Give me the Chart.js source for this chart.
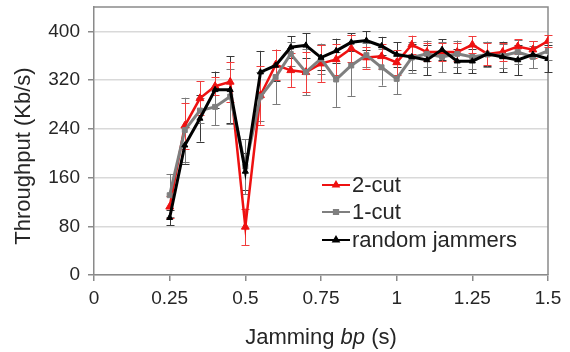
<!DOCTYPE html>
<html><head><meta charset="utf-8">
<script src="https://cdn.jsdelivr.net/npm/chart.js@4/dist/chart.umd.min.js"></script>
<style>html,body{margin:0;padding:0;background:#fff}#wrap{width:570px;height:352px}</style>
</head><body><div id="wrap"><canvas id="c" width="570" height="352"></canvas></div>
<script>
// ---- data ----
const xValues = [0.25,0.30,0.35,0.40,0.45,0.50,0.55,0.60,0.65,0.70,0.75,0.80,0.85,0.90,0.95,1.00,1.05,1.10,1.15,1.20,1.25,1.30,1.35,1.40,1.45,1.50];
const xTickLabels = ['0','0.25','0.5','0.75','1','1.25','1.5'];
const xTickValues = [0,0.25,0.5,0.75,1,1.25,1.5];
const yTickValues = [0,80,160,240,320,400];

const twoCut    = [112,245,290,310,317,79,295,345,336,333,347,354,372,357,359,349,378,366,366,366,378,363,366,375,370,384];
const twoCutErr = [18,38,28,15,33,30,48,25,28,33,30,25,22,18,20,20,15,15,15,15,14,18,15,12,14,10];

const oneCut    = [131,238,270,276,293,178,293,325,363,333,355,321,344,361,341,322,357,363,358,363,358,362,360,366,358,368];
const oneCutErr = [35,53,20,30,45,45,40,45,20,38,25,45,50,20,30,25,25,22,25,22,20,20,20,20,18,15];

const randomJam    = [94,213,257,304,304,170,333,344,374,377,357,368,382,385,376,362,358,353,370,351,351,363,358,353,362,355];
const randomJamErr = [12,30,38,30,55,30,35,25,18,20,20,20,15,15,15,20,22,25,17,20,20,20,25,25,22,22];

const seriesLabels = ['2-cut','1-cut','random jammers'];

const toPts = (ys) => xValues.map((x,i)=>({x:x,y:ys[i]}));

const TEXT = '#262626';
const FONT = '"Liberation Sans", Arial, sans-serif';

const framePlugin = {
  id:'frame',
  beforeDatasetsDraw(chart){
    const {ctx, chartArea:a} = chart;
    ctx.save();
    ctx.strokeStyle = '#8a8a8a';
    ctx.lineWidth = 1.5;
    ctx.beginPath();
    ctx.moveTo(a.left, a.top); ctx.lineTo(a.right, a.top); ctx.lineTo(a.right, a.bottom);
    ctx.stroke();
    ctx.restore();
  }
};

const errPlugin = {
  id:'errbars',
  beforeDatasetsDraw(chart){
    const {ctx} = chart;
    const xs = chart.scales.x, ys = chart.scales.y;
    ctx.save();
    ctx.lineWidth = 1;
    chart.data.datasets.slice().reverse().forEach(ds=>{
      ctx.strokeStyle = ds.errColor;
      ds.data.forEach((p,i)=>{
        const e = ds.errors[i];
        const px = Math.round(xs.getPixelForValue(p.x))+0.5;
        const y1 = ys.getPixelForValue(p.y+e), y2 = ys.getPixelForValue(p.y-e);
        ctx.beginPath();
        ctx.moveTo(px,y1); ctx.lineTo(px,y2);
        ctx.moveTo(px-4,Math.round(y1)+0.5); ctx.lineTo(px+4,Math.round(y1)+0.5);
        ctx.moveTo(px-4,Math.round(y2)+0.5); ctx.lineTo(px+4,Math.round(y2)+0.5);
        ctx.stroke();
      });
    });
    ctx.restore();
  }
};

const textPlugin = {
  id:'texts',
  afterDraw(chart){
    const {ctx} = chart;
    ctx.save();
    ctx.fillStyle = TEXT;
    // y title
    ctx.font = '22px ' + FONT;
    ctx.textAlign = 'center'; ctx.textBaseline = 'middle';
    ctx.translate(24,156); ctx.rotate(-Math.PI/2);
    ctx.fillText('Throughput (Kb/s)',0,0);
    ctx.setTransform(1,0,0,1,0,0);
    // x title with italic part
    const parts = [['Jamming ', 'normal'],['bp','italic'],[' (s)','normal']];
    let w = 0;
    parts.forEach(p=>{ctx.font = p[1]+' 22px '+FONT; w += ctx.measureText(p[0]).width;});
    let x = 321 - w/2;
    ctx.textAlign = 'left';
    parts.forEach(p=>{ctx.font = p[1]+' 22px '+FONT; ctx.fillText(p[0],x,338); x += ctx.measureText(p[0]).width;});
    // legend
    const rows = [185,212,240];
    chart.data.datasets.forEach((ds,i)=>{
      const y = rows[i];
      ctx.strokeStyle = ds.borderColor; ctx.lineWidth = 2;
      ctx.beginPath(); ctx.moveTo(322,y); ctx.lineTo(350,y); ctx.stroke();
      Chart.helpers.drawPoint(ctx,{pointStyle:ds.pointStyle,radius:3,borderWidth:1},336,y);
      ctx.fillStyle = ds.borderColor;
      ctx.fill();
      ctx.fillStyle = TEXT;
      ctx.font = '22px ' + FONT;
      ctx.textAlign='left'; ctx.textBaseline='middle';
      ctx.fillText(ds.label,352,y+1);
    });
    ctx.restore();
  }
};

new Chart(document.getElementById('c'),{
  type:'line',
  data:{datasets:[
    {label:seriesLabels[0],data:toPts(twoCut),errors:twoCutErr,errColor:'#f03c3c',borderColor:'#ee1111',backgroundColor:'#ee1111',borderWidth:2.5,pointStyle:'triangle',pointRadius:4.5,pointBorderWidth:1,order:3},
    {label:seriesLabels[1],data:toPts(oneCut),errors:oneCutErr,errColor:'#7a7a7a',borderColor:'#7f7f7f',backgroundColor:'#7f7f7f',borderWidth:3,pointStyle:'rect',pointRadius:3.5,pointBorderWidth:1,order:2},
    {label:seriesLabels[2],data:toPts(randomJam),errors:randomJamErr,errColor:'#3a3a3a',borderColor:'#000000',backgroundColor:'#000000',borderWidth:3,pointStyle:'triangle',pointRadius:3.5,pointBorderWidth:1,order:1}
  ]},
  options:{
    responsive:false, animation:false, devicePixelRatio:1,
    layout:{padding:{top:7,right:22,left:0,bottom:0}},
    plugins:{legend:{display:false},tooltip:{enabled:false}},
    elements:{line:{tension:0}},
    scales:{
      x:{type:'linear',min:0,max:1.5,
        afterBuildTicks:s=>{s.ticks = xTickValues.map(v=>({value:v}));},
        afterFit:s=>{s.height=77;s.paddingLeft=0;s.paddingRight=0;},
        ticks:{callback:(v,i)=>xTickLabels[i],font:{size:19,family:FONT},color:TEXT,padding:6,maxRotation:0,autoSkip:false},
        grid:{drawOnChartArea:false,tickLength:6,color:'#8a8a8a',lineWidth:1.5},
        border:{color:'#8a8a8a',width:1.5}
      },
      y:{type:'linear',min:0,max:440,
        afterBuildTicks:s=>{s.ticks = yTickValues.map(v=>({value:v}));},
        afterFit:s=>{s.width=94;s.paddingTop=0;s.paddingBottom=0;},
        ticks:{font:{size:19,family:FONT},color:TEXT,padding:8},
        grid:{color:'#d9d9d9',lineWidth:1.5,tickLength:6,tickColor:'#8a8a8a'},
        border:{color:'#8a8a8a',width:1.5}
      }
    }
  },
  plugins:[framePlugin,errPlugin,textPlugin]
});
</script></body></html>
